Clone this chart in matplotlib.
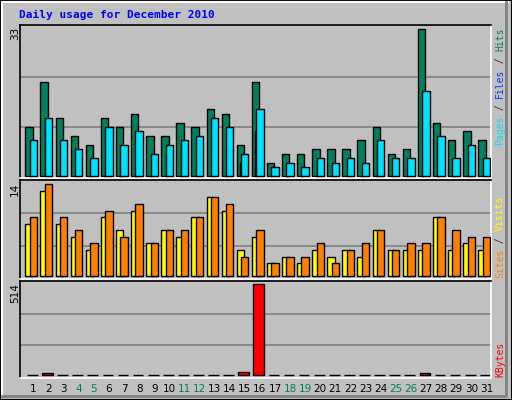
import matplotlib

matplotlib.use("Agg")
import matplotlib.pyplot as plt
import matplotlib.transforms as mtransforms
from matplotlib.patches import Rectangle
import numpy as np

days = list(range(1, 32))
hits = [11, 21, 13, 9, 7, 13, 11, 14, 9, 9, 12, 11, 15, 14, 7, 21,
        3, 5, 5, 6, 6, 6, 8, 11, 5, 6, 33, 12, 8, 10, 8]
files = [8, 13, 8, 6, 4, 11, 7, 10, 5, 7, 8, 9, 13, 11, 5, 15,
         2, 3, 2, 4, 3, 4, 3, 8, 4, 4, 19, 9, 4, 7, 4]
pages = [0] * 14 + [3, 10] + [0] * 15
visits = [8, 13, 8, 6, 4, 9, 7, 10, 5, 7, 6, 9, 12, 10, 4, 6,
          2, 3, 2, 4, 3, 4, 3, 7, 4, 4, 4, 9, 4, 5, 4]
sites = [9, 14, 9, 7, 5, 10, 6, 11, 5, 7, 7, 9, 12, 11, 3, 7,
         2, 3, 3, 5, 2, 4, 5, 7, 4, 5, 5, 9, 7, 6, 6]
kbytes = [2, 9, 2, 2, 2, 2, 2, 2, 2, 2, 2, 2, 2, 2, 15, 514,
          2, 2, 2, 2, 2, 2, 2, 2, 2, 2, 9, 2, 2, 2, 2]
weekends = [4, 5, 11, 12, 18, 19, 25, 26]

W, H = 512, 400
BG = "#C0C0C0"
MONO = "DejaVu Sans Mono"

fig = plt.figure(figsize=(W / 100, H / 100), dpi=100, facecolor=BG)

# bordure en relief
fig.add_artist(Rectangle((0, 0), 1, 1, transform=fig.transFigure, fill=False,
                         edgecolor="black", lw=1.5))
fig.add_artist(plt.Line2D([2 / W, 2 / W, 508 / W], [4 / H, 1 - 2 / H, 1 - 2 / H],
                          transform=fig.transFigure, color="white", lw=1.5))
fig.add_artist(plt.Line2D([2 / W, 506 / W, 506 / W], [4 / H, 4 / H, 1 - 2 / H],
                          transform=fig.transFigure, color="#808080", lw=2))


def px_axes(x0, y0, x1, y1):
    return fig.add_axes([x0 / W, 1 - y1 / H, (x1 - x0) / W, (y1 - y0) / H])


def style(ax, ylim, grid):
    ax.set_facecolor(BG)
    ax.set_xlim(0.109, 31.29)
    ax.set_ylim(*ylim)
    ax.set_xticks([])
    ax.set_yticks([])
    for g in grid:
        ax.axhline(g, color="#808080", lw=1.2, zorder=0)
    ax.spines["top"].set_color("black")
    ax.spines["left"].set_color("black")
    ax.spines["bottom"].set_color("white")
    ax.spines["right"].set_color("white")
    for s in ax.spines.values():
        s.set_linewidth(1.2)


x = np.array(days, dtype=float)
kw = dict(edgecolor="black", linewidth=1)

ax1 = px_axes(20, 24.7, 490.7, 178)
style(ax1, (-0.45, 33.96), [11, 22.3])
ax1.bar(x - 0.29, hits, 0.49, color="#00805C", **kw, zorder=2)
ax1.bar(x - 0.24, pages, 0.15, color="#0040FF", **kw, zorder=3)
ax1.bar(x, files, 0.49, color="#00E0FF", **kw, zorder=4)

ax2 = px_axes(20, 180.3, 490.7, 279)
style(ax2, (-0.41, 14.6), [4.6, 9.6])
ax2.bar(x - 0.29, visits, 0.49, color="#FFFF00", **kw, zorder=2)
ax2.bar(x, sites, 0.49, color="#FF8000", **kw, zorder=3)

ax3 = px_axes(20, 281, 490.7, 378)
style(ax3, (-17, 532.6), [171, 343])
ax3.bar(x - 0.07, kbytes, 0.71, color="#FF0000", **kw, zorder=2)

# titre
fig.text(19 / W, 1 - 15 / H, "Daily usage for December 2010", color="#0000FF",
         fontsize=8, fontweight="bold", family=MONO, va="center", ha="left")

# maximums à gauche
for ytop, lab in [(27, "33"), (183, "14"), (283, "514")]:
    fig.text(15 / W, 1 - ytop / H, lab, rotation=90, fontsize=7.5, family="DejaVu Sans",
             ha="center", va="top")

FS_R = 7
STEP = 0.602 * FS_R * 100 / 72  # avance d'un caractère mono en px


def right_label(parts, y_bottom):
    k = 0
    for txt, col in parts:
        fig.text(500 / W, 1 - (y_bottom - k * STEP) / H, txt, rotation=90, color=col,
                 fontsize=FS_R, family=MONO, ha="center", va="bottom")
        k += len(txt)


right_label([("Pages", "#00E0FF"), (" / ", "#303030"), ("Files", "#0040FF"),
             (" / ", "#303030"), ("Hits", "#00805C")], 145)
right_label([("Sites", "#FF8000"), (" / ", "#303030"), ("Visits", "#FFFF00")], 278)
right_label([("KBytes", "#FF0000")], 377)

# jours
trans = mtransforms.blended_transform_factory(ax3.transData, fig.transFigure)
for d in days:
    col = "#00805C" if d in weekends else "black"
    ax3.text(d, 1 - 389 / H, str(d), transform=trans, color=col, fontsize=7.5,
             ha="center", va="center", clip_on=False)

fig.savefig("out.png", dpi=100, facecolor=BG)
